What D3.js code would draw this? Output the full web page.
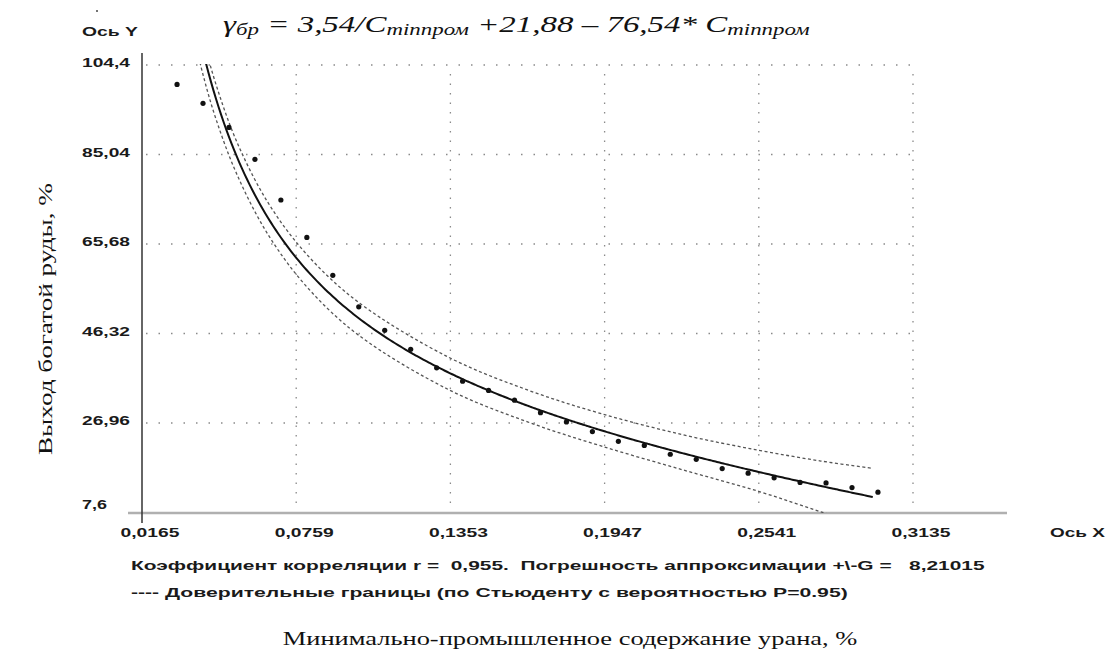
<!DOCTYPE html>
<html>
<head>
<meta charset="utf-8">
<script src="https://cdn.jsdelivr.net/npm/d3@7"></script>
<style>
body { margin: 0; background: #fff; }
svg { display: block; }
.lbl { font-family: "Liberation Sans", Arial, sans-serif; font-weight: bold; font-size: 11.5px; fill: #1a1a1a; }
.ser { font-family: "Liberation Serif", "Times New Roman", serif; fill: #111; }
</style>
</head>
<body>
<svg id="chart" width="1119" height="666"></svg>
<script>
// axis ticks as printed on the chart
const xTicks = [0.0165, 0.0759, 0.1353, 0.1947, 0.2541, 0.3135];
const xTickLabels = ['0,0165', '0,0759', '0,1353', '0,1947', '0,2541', '0,3135'];
const yTicks = [7.6, 26.96, 46.32, 65.68, 85.04, 104.4];
const yTickLabels = ['7,6', '26,96', '46,32', '65,68', '85,04', '104,4'];

const pointX = [0.03, 0.04, 0.05, 0.06, 0.07, 0.08, 0.09, 0.10, 0.11, 0.12, 0.13, 0.14, 0.15, 0.16,
                0.17, 0.18, 0.19, 0.20, 0.21, 0.22, 0.23, 0.24, 0.25, 0.26, 0.27, 0.28, 0.29, 0.30];
const pointY = [100.2, 96.1, 90.9, 84.0, 75.2, 67.1, 58.9, 52.1, 47.0, 42.9, 38.9, 36.0, 34.0, 31.9,
                29.2, 27.2, 25.1, 23.0, 22.1, 20.2, 19.1, 17.1, 16.1, 15.1, 14.1, 14.0, 13.0, 12.0];

// fitted curve y = a/x + b + c*x (coefficients from the title)
const fitCoef = [3.54, 21.88, -76.54];
const fitRange = [0.036, 0.298];

// confidence band: distance above / below the fit, read at these x
const bandX  = [0.036, 0.04, 0.045, 0.053, 0.065, 0.08, 0.10, 0.135, 0.165, 0.193, 0.225, 0.254, 0.278, 0.298];
const bandUp = [3.0, 3.0, 3.1, 3.2, 3.3, 3.4, 3.4, 3.3, 3.4, 3.6, 4.0, 4.7, 5.4, 6.2];
const bandLo = [5.5, 5.0, 4.4, 3.8, 3.6, 3.6, 3.7, 3.7, 3.5, 3.4, 3.6, 4.2, 5.6, 6.8];

const svg = d3.select('#chart');
const x = d3.scaleLinear().domain([0.0165, 0.3135]).range([142, 913]);
const y = d3.scaleLinear().domain([7.6, 104.4]).range([512.5, 65]);
const fit = v => fitCoef[0] / v + fitCoef[1] + fitCoef[2] * v;

// text squeezed/stretched to the width it has in the picture
function putText(str, px, py, w, anchor, cls, size) {
    const g = svg.append('g');
    const t = g.append('text').attr('class', cls).attr('text-anchor', anchor).text(str);
    if (size) t.style('font-size', size + 'px');
    const len = t.node().getComputedTextLength();
    g.attr('transform', `translate(${px},${py}) scale(${w / len},1)`);
    return t;
}

svg.append('clipPath').attr('id', 'plot')
    .append('rect').attr('x', 142).attr('y', 64).attr('width', 775).attr('height', 449);

// grid
svg.append('g').selectAll('line').data(yTicks.slice(1)).enter().append('line')
    .attr('x1', 146).attr('x2', 913)
    .attr('y1', d => y(d)).attr('y2', d => y(d))
    .attr('stroke', '#8a8a8a').attr('stroke-width', 1.3).attr('stroke-dasharray', '1.5,11');
svg.append('g').selectAll('line').data(xTicks.slice(1)).enter().append('line')
    .attr('x1', d => x(d)).attr('x2', d => x(d))
    .attr('y1', 74).attr('y2', 506)
    .attr('stroke', '#8a8a8a').attr('stroke-width', 1.3).attr('stroke-dasharray', '1.5,8');

// axes lines
svg.append('line').attr('x1', 128).attr('x2', 1007).attr('y1', 513).attr('y2', 513)
    .attr('stroke', '#b0b0b0').attr('stroke-width', 2.5);
svg.append('line').attr('x1', 142).attr('x2', 142).attr('y1', 53).attr('y2', 523)
    .attr('stroke', '#333').attr('stroke-width', 1.5);

// tick labels
yTicks.forEach((v, i) => {
    const s = yTickLabels[i];
    putText(s, 82, Math.min(y(v) + 2, 509), s.length === 3 ? 25 : 48, 'start', 'lbl', 12);
});
xTicks.forEach((v, i) => {
    putText(xTickLabels[i], x(v) + 8, 537, 59, 'middle', 'lbl', 12);
});
putText('Ось Y', 82, 36, 56, 'start', 'lbl', 12);
putText('Ось X', 1050, 537, 55, 'start', 'lbl', 12);
svg.append('circle').attr('cx', 97).attr('cy', 11).attr('r', 1).attr('fill', '#444');

// band and fit
const plot = svg.append('g').attr('clip-path', 'url(#plot)');
const line = d3.line().x(d => x(d[0])).y(d => y(d[1])).curve(d3.curveCatmullRom);
const upper = bandX.map((v, i) => [v, fit(v) + bandUp[i]]);
const lower = bandX.map((v, i) => [v, fit(v) - bandLo[i]]);
[upper, lower].forEach(b => {
    plot.append('path').attr('d', line(b)).attr('fill', 'none')
        .attr('stroke', '#555').attr('stroke-width', 1.3).attr('stroke-dasharray', '3,2.5');
});
const fitPts = d3.range(fitRange[0], fitRange[1], 0.001).concat([fitRange[1]]).map(v => [v, fit(v)]);
plot.append('path').attr('d', line(fitPts)).attr('fill', 'none')
    .attr('stroke', '#111').attr('stroke-width', 2);

// points
svg.append('g').selectAll('circle').data(pointX).enter().append('circle')
    .attr('cx', d => x(d)).attr('cy', (d, i) => y(pointY[i]))
    .attr('r', 2.6).attr('fill', '#111');

// title
const tg = svg.append('g');
const tt = tg.append('text').attr('class', 'ser').style('font-style', 'italic').style('font-size', '23px');
tt.append('tspan').text('γ');
tt.append('tspan').attr('dy', 3).style('font-size', '16px').text('бр');
tt.append('tspan').attr('dy', -3).text(' = 3,54/C');
tt.append('tspan').attr('dy', 3).style('font-size', '16px').text('minпром');
tt.append('tspan').attr('dy', -3).text(' +21,88 – 76,54* C');
tt.append('tspan').attr('dy', 3).style('font-size', '16px').text('minпром');
const tw = tt.node().getBBox().width;
tg.attr('transform', `translate(223,32) scale(${(810 - 223) / tw},1)`);

// notes under the chart
putText('Коэффициент корреляции r =  0,955.  Погрешность аппроксимации +\\-G =   8,21015', 131, 570, 831, 'start', 'lbl', 12)
    .style('white-space', 'pre');
putText('---- Доверительные границы (по Стьюденту с вероятностью P=0.95)', 131, 597, 717, 'start', 'lbl', 12);

// axis titles
putText('Минимально-промышленное содержание урана, %', 570, 645, 575, 'middle', 'ser', 19);
const yl = svg.append('g').attr('transform', 'translate(52,319) rotate(-90)');
yl.append('text').attr('class', 'ser').attr('text-anchor', 'middle').style('font-size', '19px')
    .attr('textLength', 272).attr('lengthAdjust', 'spacingAndGlyphs')
    .text('Выход богатой руды, %');
</script>
</body>
</html>
